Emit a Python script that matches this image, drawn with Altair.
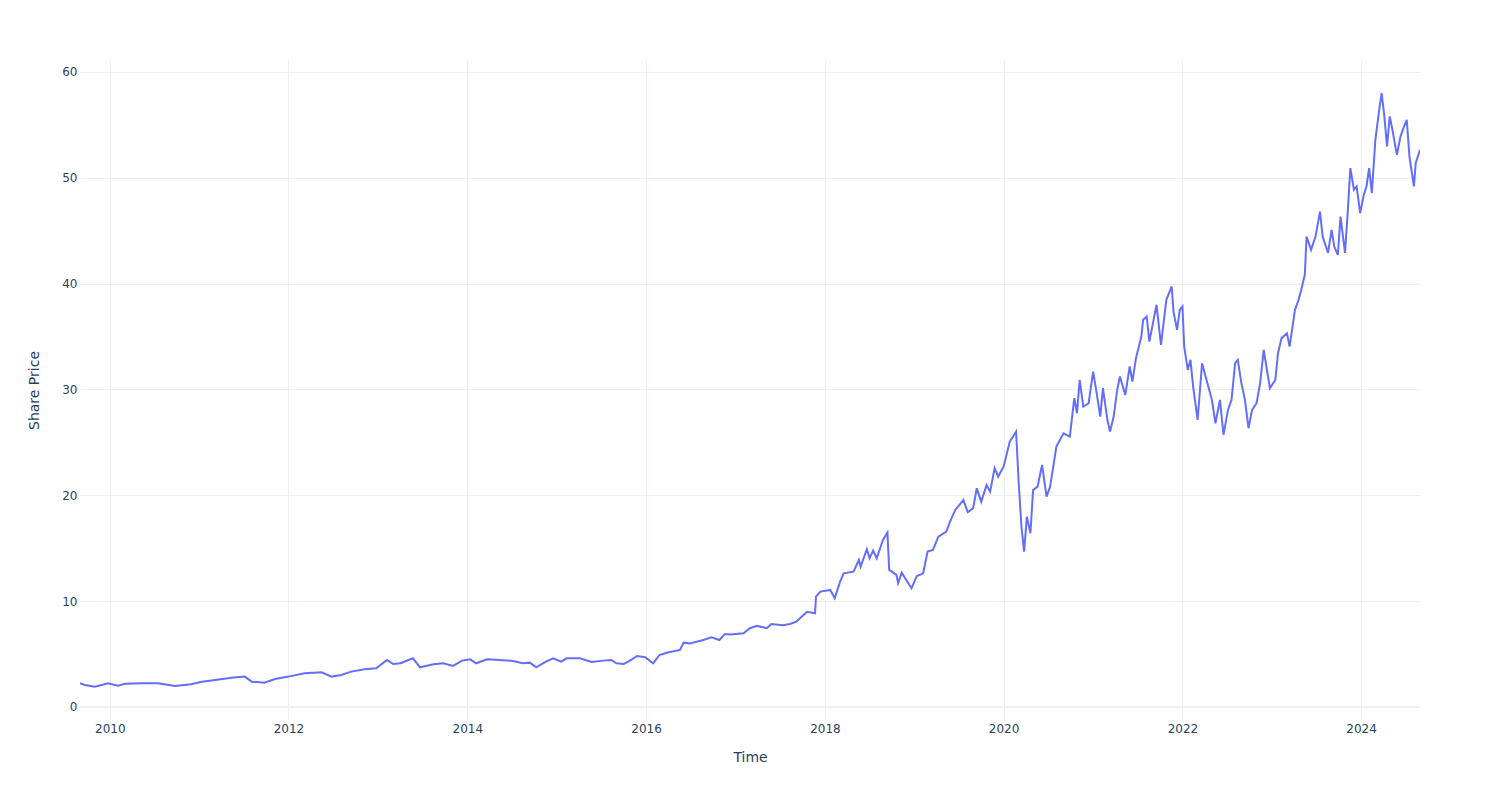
import altair as alt
import pandas as pd

# Decimal-year positions and share prices
years = [
    2009.666, 2009.72, 2009.83, 2009.91, 2009.98, 2010.09, 2010.17, 2010.35, 2010.54, 2010.73,
    2010.91, 2011.03, 2011.18, 2011.36, 2011.51, 2011.59, 2011.73, 2011.85, 2012.00, 2012.18,
    2012.37, 2012.48, 2012.59, 2012.70, 2012.85, 2012.98, 2013.10, 2013.17, 2013.25, 2013.39,
    2013.47, 2013.62, 2013.73, 2013.84, 2013.94, 2014.03, 2014.10, 2014.22, 2014.36, 2014.51,
    2014.62, 2014.70, 2014.77, 2014.88, 2014.96, 2015.05, 2015.11, 2015.26, 2015.39, 2015.52,
    2015.61, 2015.67, 2015.75, 2015.82, 2015.90, 2015.99, 2016.08, 2016.15, 2016.23, 2016.38,
    2016.42, 2016.49, 2016.64, 2016.73, 2016.82, 2016.88, 2016.94, 2017.09, 2017.16, 2017.24,
    2017.35, 2017.40, 2017.53, 2017.61, 2017.68, 2017.74, 2017.80, 2017.89, 2017.90, 2017.95,
    2018.06, 2018.11, 2018.17, 2018.21, 2018.32, 2018.38, 2018.40, 2018.47, 2018.50, 2018.54,
    2018.58, 2018.65, 2018.70, 2018.72, 2018.80, 2018.82, 2018.86, 2018.91, 2018.97, 2019.03,
    2019.10, 2019.15, 2019.21, 2019.27, 2019.36, 2019.40, 2019.46, 2019.55, 2019.60, 2019.66,
    2019.70, 2019.75, 2019.81, 2019.85, 2019.90, 2019.94, 2020.00, 2020.07, 2020.14, 2020.17,
    2020.20, 2020.23, 2020.26, 2020.30, 2020.33, 2020.38, 2020.43, 2020.48, 2020.52, 2020.59,
    2020.67, 2020.74, 2020.79, 2020.82, 2020.85, 2020.89, 2020.95, 2021.00, 2021.04, 2021.08,
    2021.11, 2021.16, 2021.19, 2021.23, 2021.27, 2021.30, 2021.36, 2021.41, 2021.44, 2021.48,
    2021.54, 2021.56, 2021.60, 2021.63, 2021.67, 2021.71, 2021.76, 2021.82, 2021.88, 2021.90,
    2021.94, 2021.97, 2022.00, 2022.02, 2022.06, 2022.09, 2022.12, 2022.17, 2022.22, 2022.27,
    2022.33, 2022.37, 2022.42, 2022.46, 2022.51, 2022.55, 2022.59, 2022.62, 2022.66, 2022.70,
    2022.74, 2022.78, 2022.83, 2022.87, 2022.91, 2022.94, 2022.98, 2023.04, 2023.07, 2023.11,
    2023.17, 2023.20, 2023.26, 2023.30, 2023.33, 2023.37, 2023.39, 2023.44, 2023.49, 2023.54,
    2023.57, 2023.63, 2023.67, 2023.70, 2023.74, 2023.77, 2023.82, 2023.85, 2023.88, 2023.92,
    2023.95, 2023.99, 2024.03, 2024.06, 2024.09, 2024.12, 2024.16, 2024.20, 2024.23, 2024.26,
    2024.29, 2024.32, 2024.35, 2024.40, 2024.44, 2024.48, 2024.51, 2024.54, 2024.59, 2024.61,
    2024.658,
]
prices = [
    2.24, 2.08, 1.92, 2.08, 2.24, 2.02, 2.20, 2.24, 2.24, 1.98,
    2.14, 2.39, 2.55, 2.77, 2.87, 2.39, 2.30, 2.65, 2.87, 3.18,
    3.28, 2.87, 3.02, 3.34, 3.56, 3.66, 4.44, 4.06, 4.13, 4.60,
    3.75, 4.03, 4.13, 3.88, 4.38, 4.50, 4.13, 4.50, 4.44, 4.35,
    4.13, 4.19, 3.75, 4.28, 4.60, 4.28, 4.60, 4.60, 4.25, 4.38,
    4.44, 4.13, 4.06, 4.38, 4.82, 4.70, 4.13, 4.91, 5.13, 5.39,
    6.08, 6.01, 6.33, 6.59, 6.33, 6.90, 6.85, 6.96, 7.44, 7.66,
    7.44, 7.84, 7.72, 7.84, 8.06, 8.53, 9.00, 8.85, 10.43, 10.90,
    11.06, 10.27, 11.84, 12.63, 12.79, 13.89, 13.26, 14.90, 14.05, 14.77,
    14.05, 15.78, 16.47, 12.95, 12.48, 11.69, 12.69, 12.00, 11.22, 12.38,
    12.63, 14.68, 14.84, 16.10, 16.57, 17.50, 18.62, 19.55, 18.40, 18.78,
    20.67, 19.40, 20.98, 20.35, 22.56, 21.77, 22.71, 25.08, 26.02, 21.14,
    17.04, 14.68, 17.99, 16.42, 20.51, 20.82, 22.87, 19.88, 20.82, 24.60,
    25.86, 25.55, 29.18, 27.77, 30.90, 28.38, 28.70, 31.69, 29.65, 27.44,
    30.12, 27.13, 26.02, 27.44, 29.96, 31.22, 29.49, 32.17, 30.75, 32.96,
    35.00, 36.58, 36.89, 34.53, 36.27, 38.00, 34.22, 38.47, 39.73, 37.36,
    35.63, 37.52, 37.84, 34.05, 31.85, 32.80, 30.27, 27.13, 32.48, 30.90,
    29.02, 26.81, 29.02, 25.71, 28.07, 29.02, 32.48, 32.80, 30.60, 29.02,
    26.34, 28.07, 28.70, 30.60, 33.74, 32.17, 30.12, 30.90, 33.43, 34.85,
    35.30, 34.05, 37.52, 38.47, 39.40, 40.83, 44.45, 43.19, 44.45, 46.80,
    44.45, 42.90, 45.08, 43.50, 42.72, 46.34, 42.90, 46.66, 50.92, 48.87,
    49.18, 46.66, 48.39, 49.18, 50.92, 48.55, 53.59, 56.27, 58.00, 55.80,
    52.96, 55.80, 54.54, 52.17, 53.90, 54.85, 55.48, 52.01, 49.18, 51.39,
    52.65,
]
tick_years = [2010, 2012, 2014, 2016, 2018, 2020, 2022, 2024]
y_ticks = [0, 10, 20, 30, 40, 50, 60]


def to_ts(y):
    yr = int(y)
    start = pd.Timestamp(yr, 1, 1)
    end = pd.Timestamp(yr + 1, 1, 1)
    return (start + (end - start) * (y - yr)).floor("min")


df = pd.DataFrame({"Time": [to_ts(y) for y in years], "Share Price": prices})
t0, t1 = df["Time"].min(), df["Time"].max()


def dt(t):
    return alt.DateTime(year=t.year, month=t.month, date=t.day, hours=t.hour, minutes=t.minute)


FONT = "DejaVu Sans"
TXT = "#2a3f5f"
GRID = "#EBF0F8"

x_enc = alt.X(
    "Time:T",
    title="Time",
    scale=alt.Scale(domain=[dt(t0), dt(t1)], nice=False),
    axis=alt.Axis(
        values=[alt.DateTime(year=y, month=1, date=1) for y in tick_years],
        format="%Y",
        grid=True,
        gridColor=GRID,
        ticks=False,
        domain=False,
        labelPadding=3,
        titlePadding=16,
    ),
)
y_enc = alt.Y(
    "Share Price:Q",
    title="Share Price",
    scale=alt.Scale(domain=[-1.23, 61.13], nice=False, zero=False),
    axis=alt.Axis(
        values=y_ticks,
        grid=True,
        gridColor=GRID,
        ticks=False,
        domain=False,
        labelPadding=3,
        titlePadding=20,
    ),
)

zero = alt.Chart(pd.DataFrame({"v": [0]})).mark_rule(color=GRID, strokeWidth=2).encode(
    y=alt.Y("v:Q", scale=alt.Scale(domain=[-1.23, 61.13], nice=False, zero=False))
)

line = alt.Chart(df).mark_line(color="#636efa", strokeWidth=2, clip=True).encode(
    x=x_enc, y=y_enc
)

chart = (
    alt.layer(zero, line)
    .properties(
        width=1340,
        height=660,
        autosize=alt.AutoSizeParams(type="none"),
        padding={"left": 72, "top": 52, "right": 72, "bottom": 60},
        background="white",
    )
    .configure_view(stroke=None)
    .configure_axis(
        labelFont=FONT,
        labelFontSize=12,
        labelColor=TXT,
        titleFont=FONT,
        titleFontSize=14,
        titleColor=TXT,
        titleFontWeight="normal",
    )
)

chart.save("out.html", embed_options={"renderer": "svg", "actions": False})
